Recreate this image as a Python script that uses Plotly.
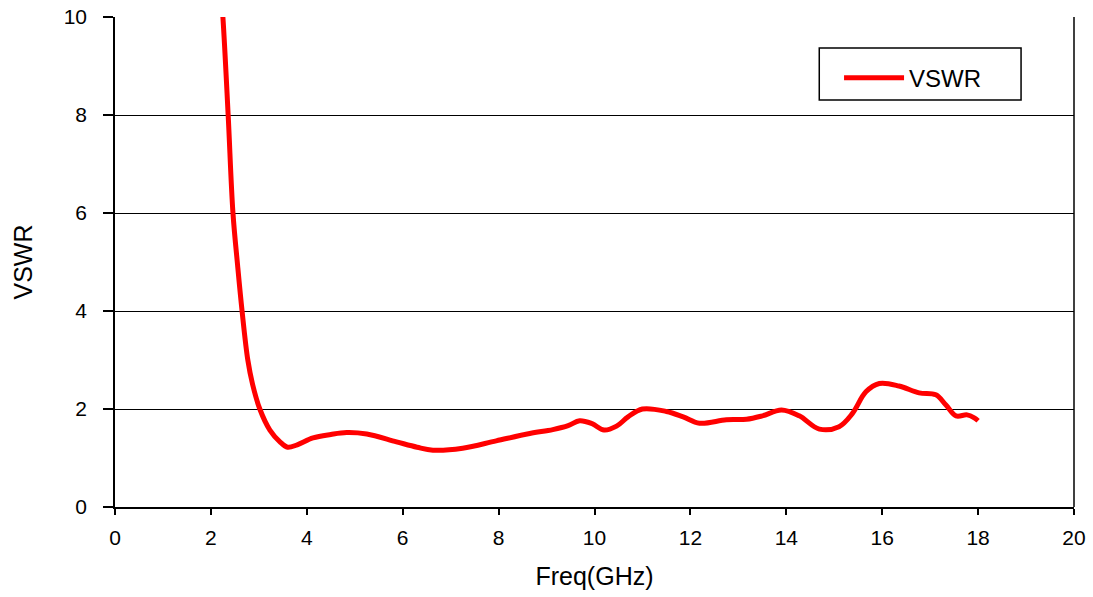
import plotly.graph_objects as go

freq = [2.2, 2.25, 2.36, 2.46, 2.56, 2.65, 2.77, 2.87, 3.02, 3.23, 3.44, 3.6, 3.8, 4.13, 4.5, 4.83, 5.25,
        5.87, 6.3, 6.63, 7.25, 7.95, 8.65, 9.13, 9.45, 9.69, 9.95, 10.2, 10.46, 10.7, 11.0, 11.5,
        11.85, 12.19, 12.75, 13.17, 13.5, 13.9, 14.27, 14.69, 15.1, 15.38, 15.66, 15.94, 16.35,
        16.77, 17.12, 17.33, 17.54, 17.77, 17.92, 18.0]
vswr = [10.6, 10.0, 8.0, 6.0, 4.9, 4.0, 3.0, 2.5, 2.0, 1.57, 1.33, 1.22, 1.27, 1.41, 1.48, 1.52, 1.49,
        1.33, 1.22, 1.16, 1.2, 1.35, 1.5, 1.58, 1.66, 1.76, 1.7, 1.57, 1.65, 1.84, 2.0, 1.95,
        1.84, 1.71, 1.78, 1.79, 1.86, 1.98, 1.86, 1.59, 1.64, 1.91, 2.35, 2.52, 2.47,
        2.33, 2.29, 2.08, 1.86, 1.88, 1.82, 1.76]

x_ticks = [0, 2, 4, 6, 8, 10, 12, 14, 16, 18, 20]
y_ticks = [0, 2, 4, 6, 8, 10]

font = "Arial, Liberation Sans, sans-serif"
tick_font = dict(family=font, size=21, color="black")

fig = go.Figure()
fig.add_trace(go.Scatter(x=freq, y=vswr, mode="lines", name="VSWR",
                         line=dict(color="#ff0000", width=5, shape="spline", smoothing=1.0)))

fig.update_layout(
    width=1093, height=597,
    margin=dict(l=115, r=19, t=17, b=90, autoexpand=False),
    paper_bgcolor="white", plot_bgcolor="white",
    font=dict(family=font, size=20, color="black"),
    showlegend=True,
    legend=dict(x=0.755, y=0.875, xanchor="left", yanchor="middle",
                borderwidth=0, bgcolor="rgba(0,0,0,0)",
                font=dict(size=24, family=font), itemwidth=60),
    xaxis=dict(range=[0, 20], tickvals=x_ticks, ticks="outside", ticklen=6, tickwidth=1.5,
               tickcolor="black", showline=True, linecolor="black", linewidth=1.5,
               showgrid=False, zeroline=False, automargin=False, ticklabelstandoff=5,
               tickfont=tick_font,
               title=dict(text="Freq(GHz)", font=dict(size=25, family=font), standoff=20)),
    yaxis=dict(range=[0, 10], tickvals=y_ticks, ticks="outside", ticklen=10, tickwidth=1.5,
               tickcolor="black", showline=True, linecolor="black", linewidth=1.5,
               showgrid=True, gridcolor="black", gridwidth=1, zeroline=False, automargin=False,
               ticklabelstandoff=12, tickfont=tick_font,
               title=dict(text="VSWR", font=dict(size=25, family=font), standoff=24)),
)
# right border of plot area
fig.add_shape(type="line", xref="paper", yref="paper", x0=1, x1=1, y0=0, y1=1,
              line=dict(color="black", width=1.5))
# legend frame
fig.add_shape(type="rect", xref="paper", yref="paper",
              x0=(820 - 115) / 960, x1=(1022 - 115) / 960,
              y0=(507 - 100) / 490, y1=(507 - 48) / 490,
              line=dict(color="black", width=1.5), fillcolor="rgba(0,0,0,0)")

fig.write_html("out.html")
